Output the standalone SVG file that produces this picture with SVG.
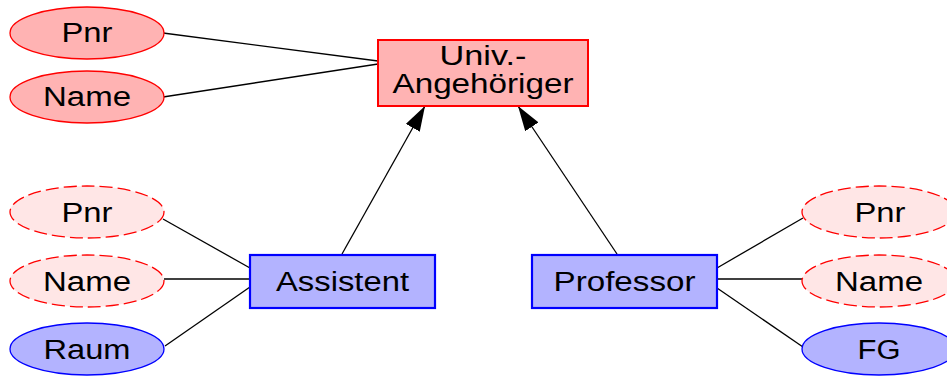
<svg xmlns="http://www.w3.org/2000/svg" width="947" height="376" viewBox="0 0 947 376">
<style>
text{font-family:"Liberation Sans",Arial,sans-serif;font-size:27px;fill:#000;text-anchor:middle}
.ent{fill:#ffb3b3;stroke:#ff0000;stroke-width:1.3}
.entbox{fill:#ffb3b3;stroke:#ff0000;stroke-width:2}
.inh{fill:#ffe6e6;stroke:#ff0000;stroke-width:1.3;stroke-dasharray:13 5}
.own{fill:#b3b3ff;stroke:#0000ff;stroke-width:1.3}
.box{fill:#b3b3ff;stroke:#0000ff;stroke-width:2.2}
.c{stroke:#000;stroke-width:1.3;fill:none}
</style>
<defs>
<marker id="arr" viewBox="0 0 25 16" refX="25" refY="8" markerWidth="25" markerHeight="16" markerUnits="userSpaceOnUse" orient="auto">
<path d="M0,0 L25,8 L0,16 z" fill="#000"/>
</marker>
</defs>
<g id="connectors">
<line class="c" x1="163" y1="33" x2="378" y2="61"/>
<line class="c" x1="163" y1="97" x2="378" y2="64"/>
<line class="c" x1="163" y1="219" x2="250" y2="268"/>
<line class="c" x1="164" y1="279" x2="250" y2="279"/>
<line class="c" x1="165" y1="346" x2="250" y2="287"/>
<line class="c" x1="717" y1="268" x2="803" y2="218"/>
<line class="c" x1="717" y1="279" x2="802" y2="279"/>
<line class="c" x1="717" y1="288" x2="803" y2="347"/>
<line class="c" x1="342" y1="254" x2="425" y2="106" marker-end="url(#arr)"/>
<line class="c" x1="617" y1="254" x2="518" y2="106" marker-end="url(#arr)"/>
</g>
<g id="univ">
<rect class="entbox" x="378" y="40" width="210" height="66"/>
<text x="483" y="65" textLength="87" lengthAdjust="spacingAndGlyphs">Univ.-</text>
<text x="483" y="93" textLength="181" lengthAdjust="spacingAndGlyphs">Angehöriger</text>
</g>
<g id="univ-pnr">
<ellipse class="ent" cx="87" cy="33" rx="77" ry="26"/>
<text x="87" y="42" textLength="51" lengthAdjust="spacingAndGlyphs">Pnr</text>
</g>
<g id="univ-name">
<ellipse class="ent" cx="87" cy="97" rx="77" ry="26"/>
<text x="87" y="106" textLength="88" lengthAdjust="spacingAndGlyphs">Name</text>
</g>
<g id="assistent">
<rect class="box" x="250" y="255" width="185" height="53"/>
<text x="342.5" y="291" textLength="133" lengthAdjust="spacingAndGlyphs">Assistent</text>
</g>
<g id="ass-pnr">
<ellipse class="inh" cx="87" cy="212" rx="77" ry="26"/>
<text x="87" y="222" textLength="51" lengthAdjust="spacingAndGlyphs">Pnr</text>
</g>
<g id="ass-name">
<ellipse class="inh" cx="87" cy="281" rx="77" ry="26"/>
<text x="87" y="291" textLength="88" lengthAdjust="spacingAndGlyphs">Name</text>
</g>
<g id="ass-raum">
<ellipse class="own" cx="87" cy="349" rx="77" ry="26"/>
<text x="87" y="359" textLength="87" lengthAdjust="spacingAndGlyphs">Raum</text>
</g>
<g id="professor">
<rect class="box" x="532" y="255" width="185" height="53"/>
<text x="624.5" y="291" textLength="142" lengthAdjust="spacingAndGlyphs">Professor</text>
</g>
<g id="prof-pnr">
<ellipse class="inh" cx="879" cy="212" rx="77" ry="26"/>
<text x="880" y="222" textLength="51" lengthAdjust="spacingAndGlyphs">Pnr</text>
</g>
<g id="prof-name">
<ellipse class="inh" cx="879" cy="281" rx="77" ry="26"/>
<text x="879" y="291" textLength="88" lengthAdjust="spacingAndGlyphs">Name</text>
</g>
<g id="prof-fg">
<ellipse class="own" cx="879" cy="349" rx="77" ry="26"/>
<text x="879" y="359" textLength="43" lengthAdjust="spacingAndGlyphs">FG</text>
</g>
</svg>
